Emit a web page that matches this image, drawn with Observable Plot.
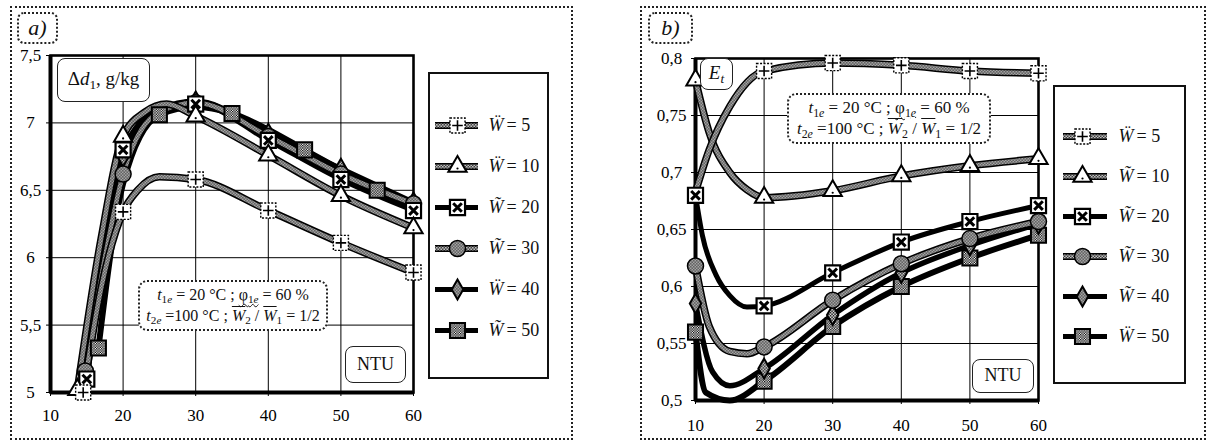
<!DOCTYPE html>
<html><head><meta charset="utf-8">
<script src="https://cdn.jsdelivr.net/npm/d3@7"></script>
<script src="https://cdn.jsdelivr.net/npm/@observablehq/plot@0.6"></script>
<style>
body{margin:0;background:#fff;font-family:"Liberation Serif",serif;color:#111;}
#root{position:relative;width:1208px;height:442px;overflow:hidden;background:#fff;}
.panel{position:absolute;border:2px dotted #222;box-sizing:border-box;}
.tag{position:absolute;border:2px dotted #222;border-radius:7px;box-sizing:border-box;font-style:italic;font-size:22px;text-align:center;line-height:27px;background:#fff;}
.box{position:absolute;border:1.5px solid #222;border-radius:8px;box-sizing:border-box;background:#fff;text-align:center;}
.params{position:absolute;border:2px dotted #222;border-radius:9px;box-sizing:border-box;background:#fff;font-size:16px;line-height:21px;text-align:center;padding-top:2px;white-space:nowrap;}
.legend{position:absolute;border:2px solid #111;box-sizing:border-box;background:#fff;}
sub{font-size:0.7em;vertical-align:-0.3em;line-height:0;}
.wv{text-decoration:underline wavy;text-underline-offset:3px;text-decoration-thickness:1px;}
.ov{text-decoration:overline;}
</style></head><body>
<svg width="0" height="0" style="position:absolute"><defs>
<pattern id="chk" patternUnits="userSpaceOnUse" width="3" height="3"><rect width="3" height="3" fill="#fff"/><rect width="1.5" height="1.5" fill="#000"/><rect x="1.5" y="1.5" width="1.5" height="1.5" fill="#000"/></pattern>
<pattern id="chk2" patternUnits="userSpaceOnUse" width="2.5" height="2.5"><rect width="2.5" height="2.5" fill="#fff"/><rect width="1.3" height="1.3" fill="#000"/><rect x="1.25" y="1.25" width="1.3" height="1.3" fill="#000"/></pattern>
</defs></svg>
<div id="root">
  <div class="panel" style="left:10px;top:6px;width:563px;height:434px"></div>
  <div class="panel" style="left:640px;top:6px;width:566px;height:434px"></div>
</div>
<script>
// ---------- DATA ----------
const seriesKeys = ["5", "10", "20", "30", "40", "50"];
const legendLabels = ["= 5", "= 10", "= 20", "= 30", "= 40", "= 50"];
const legendW_A = ["Ẅ", "Ẅ", "W̃", "W̃", "Ẅ", "W̃"];
const legendW_B = ["Ẅ", "W̃", "W̃", "W̃", "W̃", "Ẅ"];
const xTicks = [10, 20, 30, 40, 50, 60];
const yTicksA = [5, 5.5, 6, 6.5, 7, 7.5];
const yTicksB = [0.5, 0.55, 0.6, 0.65, 0.7, 0.75, 0.8];

// Panel a) : Δd1, g/kg vs NTU
const ntuA5  = [14.5, 17, 20, 22, 25, 30, 40, 50, 60];
const dA5    = [5.0, 5.78, 6.34, 6.5, 6.6, 6.58, 6.35, 6.11, 5.89];
const mkA5   = [14.5, 20, 30, 40, 50, 60];
const ntuA10 = [13.7, 17, 20, 23, 26, 30, 40, 50, 60];
const dA10   = [5.02, 6.15, 6.9, 7.08, 7.14, 7.05, 6.76, 6.46, 6.22];
const mkA10  = [13.7, 20, 30, 40, 50, 60];
const ntuA20 = [15, 17.5, 20, 25, 30, 40, 50, 60];
const dA20   = [5.1, 6.1, 6.8, 7.1, 7.14, 6.87, 6.58, 6.35];
const mkA20  = [15, 20, 30, 40, 50, 60];
const ntuA30 = [14.8, 17.5, 20, 25, 30, 40, 50, 60];
const dA30   = [5.16, 6.0, 6.62, 7.08, 7.15, 6.9, 6.62, 6.4];
const mkA30  = [14.8, 20, 30, 40, 50, 60];
const ntuA40 = [15, 17.5, 20, 25, 30, 40, 50, 60];
const dA40   = [5.1, 6.05, 6.75, 7.1, 7.16, 6.92, 6.66, 6.41];
const mkA40  = [15, 20, 30, 40, 50, 60];
const ntuA50 = [16.6, 20, 25, 30, 35, 40, 45, 50, 55, 60];
const dA50   = [5.33, 6.55, 7.06, 7.12, 7.07, 6.95, 6.8, 6.65, 6.5, 6.37];
const mkA50  = [16.6, 25, 35, 45, 55];

// Panel b) : Et vs NTU
const ntuB5  = [10, 12, 15, 20, 30, 40, 50, 60];
const eB5    = [0.683, 0.72, 0.758, 0.789, 0.796, 0.794, 0.789, 0.787];
const mkB5   = [20, 30, 40, 50, 60];
const ntuB10 = [10, 12, 15, 17.5, 20, 30, 40, 50, 60];
const eB10   = [0.781, 0.735, 0.70, 0.685, 0.678, 0.684, 0.697, 0.706, 0.712];
const mkB10  = [10, 20, 30, 40, 50, 60];
const ntuB20 = [10, 11, 13, 15, 17.5, 20, 30, 40, 50, 60];
const eB20   = [0.68, 0.645, 0.61, 0.592, 0.582, 0.583, 0.612, 0.639, 0.657, 0.671];
const mkB20  = [10, 20, 30, 40, 50, 60];
const ntuB30 = [10, 12, 15, 17.5, 20, 30, 40, 50, 60];
const eB30   = [0.618, 0.565, 0.543, 0.541, 0.547, 0.588, 0.62, 0.642, 0.657];
const mkB30  = [10, 20, 30, 40, 50, 60];
const ntuB40 = [10, 12.5, 15, 20, 30, 40, 50, 60];
const eB40   = [0.585, 0.525, 0.513, 0.528, 0.575, 0.612, 0.636, 0.655];
const mkB40  = [10, 20, 30, 40, 50, 60];
const ntuB50 = [10, 11.5, 15, 20, 30, 40, 50, 60];
const eB50   = [0.56, 0.507, 0.50, 0.517, 0.565, 0.60, 0.625, 0.645];
const mkB50  = [10, 20, 30, 40, 50, 60];

// ---------- BUILD ----------
const rows = (ntu, val, mk) => ntu.map((n, i) => ({ntu: n, val: val[i], mark: mk.includes(n)}));
const dataA = {
  "5": rows(ntuA5, dA5, mkA5), "10": rows(ntuA10, dA10, mkA10), "20": rows(ntuA20, dA20, mkA20),
  "30": rows(ntuA30, dA30, mkA30), "40": rows(ntuA40, dA40, mkA40), "50": rows(ntuA50, dA50, mkA50)
};
const dataB = {
  "5": rows(ntuB5, eB5, mkB5), "10": rows(ntuB10, eB10, mkB10), "20": rows(ntuB20, eB20, mkB20),
  "30": rows(ntuB30, eB30, mkB30), "40": rows(ntuB40, eB40, mkB40), "50": rows(ntuB50, eB50, mkB50)
};
const hatched = new Set(["5", "10", "30"]);
const solidWidth = {"20": 5, "40": 5.5, "50": 6};
const fmt = d => String(+d.toFixed(2)).replace(".", ",");

function lineMarks(key, data) {
  const o = {x: "ntu", y: "val", curve: "monotone-x"};
  if (hatched.has(key)) return [
    Plot.line(data, {...o, stroke: "black", strokeWidth: 7.5}),
    Plot.line(data, {...o, stroke: "url(#chk)", strokeWidth: 4.5})
  ];
  return [Plot.line(data, {...o, stroke: "black", strokeWidth: solidWidth[key]})];
}
function symbolMarks(key, data, x, y) {
  const b = {x, y};
  switch (key) {
    case "5": return [
      Plot.dot(data, {...b, symbol: "square", r: 8.5, fill: "white", stroke: "black", strokeWidth: 1.4, strokeDasharray: "2,1.5"}),
      Plot.dot(data, {...b, symbol: "plus", r: 3.5, fill: "none", stroke: "black", strokeWidth: 1.6})];
    case "10": return [
      Plot.dot(data, {...b, symbol: "triangle", r: 6.8, fill: "white", stroke: "black", strokeWidth: 2}),
      Plot.dot(data, {...b, symbol: "circle", r: 1.1, dy: 2, fill: "black", stroke: "none"})];
    case "20": return [
      Plot.dot(data, {...b, symbol: "square", r: 8.5, fill: "white", stroke: "black", strokeWidth: 2.2}),
      Plot.dot(data, {...b, symbol: "times", r: 4, fill: "none", stroke: "black", strokeWidth: 3})];
    case "30": return [
      Plot.dot(data, {...b, symbol: "circle", r: 8, fill: "url(#chk)", stroke: "black", strokeWidth: 1.5})];
    case "40": return [
      Plot.dot(data, {...b, symbol: "diamond", r: 6, fill: "url(#chk)", stroke: "black", strokeWidth: 2})];
    case "50": return [
      Plot.dot(data, {...b, symbol: "square", r: 8.5, fill: "url(#chk2)", stroke: "black", strokeWidth: 2})];
  }
}
const lineOrder = ["50", "40", "20", "30", "10", "5"];
const markOrder = ["50", "40", "30", "20", "10", "5"];

function panel(data, yDomain, yTicks, size) {
  const [x0, x1] = [10, 60];
  return Plot.plot({
    width: size.w, height: size.h,
    marginLeft: size.ml, marginRight: size.mr, marginTop: size.mt, marginBottom: size.mb,
    style: {fontFamily: "Liberation Serif", fontSize: "17px", background: "transparent", overflow: "visible", color: "black"},
    x: {domain: [x0, x1], ticks: xTicks, tickSize: 4, tickPadding: size.tp, tickFormat: d => d, label: null},
    y: {domain: yDomain, ticks: yTicks, tickSize: 4, tickFormat: () => "", label: null},
    marks: [
      Plot.ruleX(xTicks.slice(1, -1), {stroke: "black", strokeWidth: 1}),
      Plot.ruleY(yTicks.slice(1, -1), {stroke: "black", strokeWidth: 1}),
      Plot.frame({stroke: "black", strokeWidth: 2.6}),
      Plot.ruleX([x0], {stroke: "black", strokeWidth: 4}),
      Plot.ruleY([yDomain[0]], {stroke: "black", strokeWidth: 4}),
      Plot.text(yTicks, {x: x0, y: d => d, text: d => fmt(d), dx: -size.lx, textAnchor: "middle", fontSize: 17}),
      ...lineOrder.flatMap(k => lineMarks(k, data[k])),
      ...markOrder.flatMap(k => symbolMarks(k, data[k].filter(d => d.mark), "ntu", "val"))
    ]
  });
}

function legend(size, wLabels) {
  const keys = seriesKeys;
  const lab = new Map(keys.map((k, i) => [k, legendLabels[i]]));
  const wl = new Map(keys.map((k, i) => [k, wLabels[i]]));
  const legendLine = k => {
    const o = {y: d => d, x1: size.l0, x2: size.l1};
    if (hatched.has(k)) return [Plot.ruleY([k], {...o, stroke: "black", strokeWidth: 7}), Plot.ruleY([k], {...o, stroke: "url(#chk)", strokeWidth: 4})];
    return [Plot.ruleY([k], {...o, stroke: "black", strokeWidth: 5})];
  };
  return Plot.plot({
    width: size.w, height: size.h, marginLeft: 0, marginRight: 0, marginTop: 0, marginBottom: 0,
    style: {fontFamily: "Liberation Serif", fontSize: "17px", background: "transparent", overflow: "visible"},
    x: {domain: [0, size.w], range: [0, size.w], axis: null},
    y: {type: "point", domain: keys, range: size.yr, axis: null},
    marks: [
      ...keys.flatMap(legendLine),
      ...keys.flatMap(k => symbolMarks(k, [k], size.sx, d => d)),
      Plot.text(keys, {x: size.tx, y: d => d, text: d => wl.get(d), fontSize: 18, textAnchor: "start", fontStyle: "italic"}),
      Plot.text(keys, {x: size.tx + 18, y: d => d, text: d => lab.get(d), fontSize: 18, textAnchor: "start"})
    ]
  });
}

const root = document.getElementById("root");
function place(el, left, top) {
  el.style.position = "absolute"; el.style.left = left + "px"; el.style.top = top + "px";
  root.appendChild(el);
}
// Panel a
place(panel(dataA, [5, 7.5], yTicksA, {w: 430, h: 442, ml: 50, mr: 17, mt: 55, mb: 50, tp: 12, lx: 20}), 0, 0);
// Panel b
place(panel(dataB, [0.5, 0.8], yTicksB, {w: 420, h: 442, ml: 55, mr: 22, mt: 58, mb: 42, tp: 14, lx: 24}), 640, 0);

function addBox(cls, left, top, w, h, html, extra) {
  const d = document.createElement("div");
  d.className = cls;
  d.style.cssText = `left:${left}px;top:${top}px;width:${w}px;height:${h}px;` + (extra || "");
  d.innerHTML = html;
  root.appendChild(d);
  return d;
}
addBox("tag", 17, 12, 41, 32, "a)");
addBox("tag", 648, 12, 45, 32, "b)");
addBox("box", 57, 58, 93, 44, "Δ<i>d</i><sub>1</sub>, g/kg", "font-size:19px;line-height:40px;");
addBox("box", 345, 346, 61, 37, "NTU", "font-size:18px;line-height:34px;");
addBox("box", 700, 58, 33, 32, "<i>E<sub>t</sub></i>", "font-size:19px;line-height:28px;");
addBox("box", 972, 359, 62, 34, "NTU", "font-size:18px;line-height:31px;");
const paramsHTML = `<i>t</i><sub>1<i>e</i></sub> = 20 °C&nbsp;; <span class="wv">φ<sub>1<i>e</i></sub></span> = 60 %<br><i>t</i><sub>2<i>e</i></sub> =100 °C ; <span class="ov"><i>W</i></span><sub>2</sub> / <span class="ov"><i>W</i></span><sub>1</sub> = 1/2`;
addBox("params", 138, 280, 190, 51, paramsHTML);
addBox("params", 787, 93, 204, 51, paramsHTML, "font-size:17px;");

const legA = addBox("legend", 428, 72, 121, 307, "");
const lA = legend({w: 117, h: 303, yr: [28, 278], l0: 5, l1: 48, sx: 27, tx: 58}, legendW_A);
lA.style.position = "absolute"; lA.style.left = "0px"; lA.style.top = "0px";
legA.appendChild(lA);
const legB = addBox("legend", 1053, 85, 133, 299, "");
const lB = legend({w: 129, h: 295, yr: [28, 270], l0: 8, l1: 52, sx: 27, tx: 63}, legendW_B);
lB.style.position = "absolute"; lB.style.left = "0px"; lB.style.top = "0px";
legB.appendChild(lB);
</script>
</body></html>
